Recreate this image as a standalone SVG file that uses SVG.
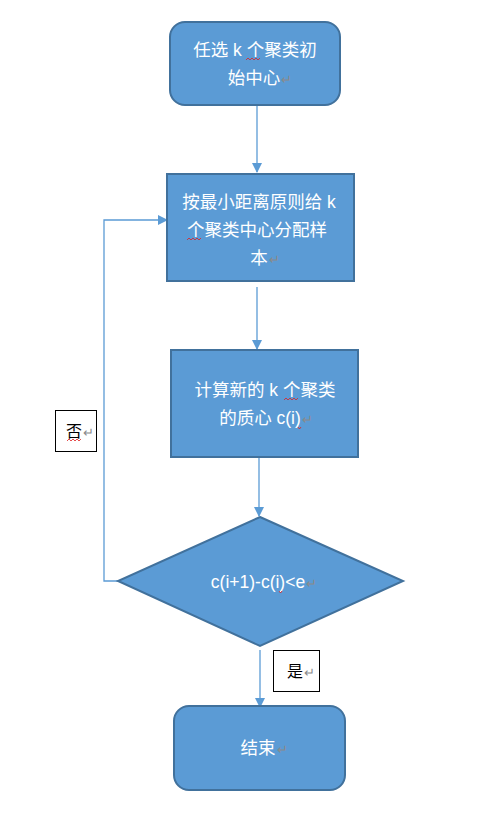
<svg xmlns="http://www.w3.org/2000/svg" width="479" height="820" viewBox="0 0 479 820">
<defs>
<marker id="ah" viewBox="0 0 10 10" refX="9" refY="5" markerWidth="10" markerHeight="10" markerUnits="userSpaceOnUse" orient="auto"><path d="M0,0 L10,5 L0,10 z" fill="#5b9bd5"/></marker>
<style>
.shape{fill:#5b9bd5;stroke:#41719c;stroke-width:2}
.t{font-family:"Liberation Sans","Noto Sans CJK SC",sans-serif;font-size:17.5px;fill:#ffffff;text-anchor:middle}
.lbl{font-family:"Liberation Sans","Noto Sans CJK SC",sans-serif;font-size:16px;fill:#000000;text-anchor:middle}
.ret{fill:#8a8a8a;font-size:13px}
.conn{fill:none;stroke:#5b9bd5;stroke-width:1.3}
.box{fill:#ffffff;stroke:#000000;stroke-width:1}
.wavy{fill:none;stroke:#e02020;stroke-width:0.8}
</style>
</defs>
<rect width="479" height="820" fill="#ffffff"/>
<g id="connectors">
<line class="conn" x1="257" y1="105" x2="257" y2="172" marker-end="url(#ah)"/>
<line class="conn" x1="257" y1="287" x2="257" y2="349" marker-end="url(#ah)"/>
<line class="conn" x1="259" y1="458" x2="259" y2="516" marker-end="url(#ah)"/>
<polyline class="conn" points="118,581 104,581 104,220 167,220" marker-end="url(#ah)"/>
<line class="conn" x1="260" y1="650" x2="260" y2="707" marker-end="url(#ah)"/>
</g>
<g id="start">
<rect class="shape" x="170" y="22" width="170" height="83" rx="15"/>
<text class="t" x="255" y="56">任选 k 个聚类初</text>
<text class="t" x="260" y="84">始中心<tspan class="ret" dx="1">↵</tspan></text>
<path class="wavy" d="M246,60 l2,-2 l2,2 l2,-2 l2,2 l2,-2 l2,2 l2,-2"/>
</g>
<g id="assign">
<rect class="shape" x="167" y="174" width="187" height="107"/>
<text class="t" x="259" y="208">按最小距离原则给 k</text>
<text class="t" x="257" y="236">个聚类中心分配样</text>
<text class="t" x="265" y="264">本<tspan class="ret" dx="1">↵</tspan></text>
<path class="wavy" d="M187,240 l2,-2 l2,2 l2,-2 l2,2 l2,-2 l2,2 l2,-2"/>
</g>
<g id="update">
<rect class="shape" x="171" y="350" width="187" height="107"/>
<text class="t" x="265" y="396">计算新的 k 个聚类</text>
<text class="t" x="266" y="424">的质心 c(i)<tspan class="ret" dx="1">↵</tspan></text>
<path class="wavy" d="M284,400 l2,-2 l2,2 l2,-2 l2,2 l2,-2 l2,2 l2,-2"/>
<path class="wavy" d="M298,427 l1.5,2 l1.5,-2"/>
</g>
<g id="decision">
<polygon class="shape" points="260,517 403,581 260,646 118,581"/>
<text class="t" x="264" y="588">c(i+1)-c(i)&lt;e<tspan class="ret" dx="1">↵</tspan></text>
<path class="wavy" d="M279,591 l1.5,2 l1.5,-2"/>
</g>
<g id="end">
<rect class="shape" x="174" y="706" width="171" height="84" rx="15"/>
<text class="t" x="264" y="754">结束<tspan class="ret" dx="1">↵</tspan></text>
</g>
<g id="label-no">
<rect class="box" x="55.500" y="410.500" width="41" height="41"/>
<text class="lbl" x="80" y="437">否<tspan class="ret" dx="1">↵</tspan></text>
<path class="wavy" d="M67,441 l2,-2 l2,2 l2,-2 l2,2 l2,-2 l2,2 l2,-2"/>
</g>
<g id="label-yes">
<rect class="box" x="273.500" y="650.500" width="46" height="41"/>
<text class="lbl" x="301" y="677">是<tspan class="ret" dx="1">↵</tspan></text>
</g>
</svg>
